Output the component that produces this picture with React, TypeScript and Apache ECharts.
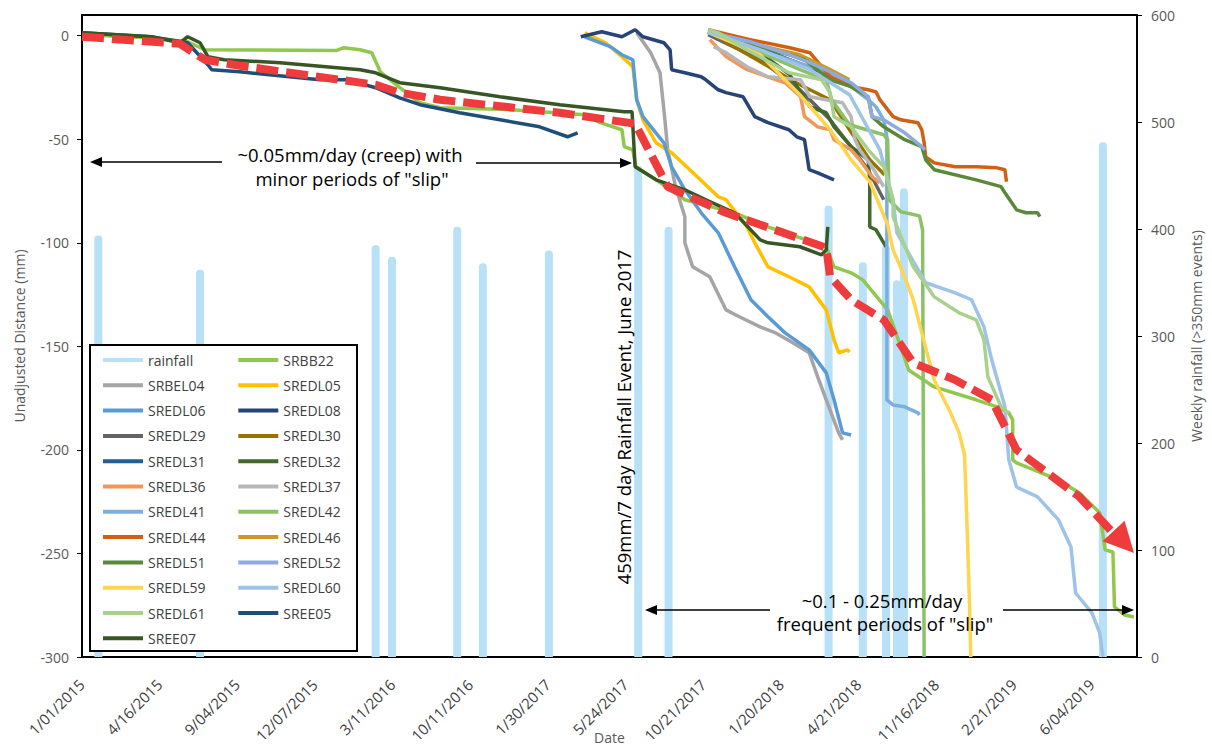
import { useEffect, useRef } from 'react';
import * as echarts from 'echarts';

const FONT = '"Open Sans", "Noto Sans", sans-serif';

// x axis: tick label index scale (100 units between consecutive tick labels)
const xTickLabels = ['1/01/2015', '4/16/2015', '9/04/2015', '12/07/2015', '3/11/2016', '10/11/2016', '1/30/2017', '5/24/2017', '10/21/2017', '1/20/2018', '4/21/2018', '11/16/2018', '2/21/2019', '6/04/2019'];
const xTickPositions = [3, 103, 203, 303, 403, 503, 603, 703, 803, 903, 1003, 1103, 1203, 1303];

// weekly rainfall events (>350mm)
const rainX = [21, 152, 378, 399, 483, 516, 601, 716, 755, 961, 1005, 1035, 1049, 1058, 1314];
const rainMm = [394, 362, 385, 374, 402, 368, 380, 459, 402, 422, 369, 385, 352, 438, 481];

const SRBB22 = [[0, 0.5], [88, -1], [136, -2.9], [158, -6.8], [327, -7.2], [337, -5.8], [358, -6.8], [373, -8.2], [384, -17.4], [409, -25.1], [435, -32.4], [461, -34.8], [553, -35.7], [647, -38.2], [667, -42], [695, -45.4], [698, -53.6], [709, -55.1], [713, -63.3], [739, -69.6], [776, -79.2], [840, -85.5], [883, -92.3], [958, -101.9], [968, -111.6], [990, -114.5], [1005, -117.9], [1037, -132.4], [1054, -150.2], [1064, -161.4], [1097, -169.6], [1151, -175.8], [1178, -179.2], [1193, -182.1], [1198, -185.5], [1198, -204.8], [1203, -206.3], [1257, -214.5], [1284, -220.8], [1310, -230.4], [1317, -248.3], [1327, -249.3], [1329, -275.8], [1342, -279.7], [1354, -280.7]];
const SRBEL04 = [[714, 1.4], [732, -8.2], [744, -17.9], [749, -35.7], [754, -55.1], [764, -72.9], [776, -87.4], [776, -100], [786, -111.6], [808, -116.4], [829, -132.4], [846, -135.7], [873, -140.6], [893, -143.5], [915, -148.3], [936, -153.1], [947, -164.7], [958, -175.8], [974, -191.8], [979, -195.2]];
const SREDL05 = [[647, 1.4], [674, -3.4], [695, -10.1], [709, -15], [714, -30.9], [722, -40.6], [739, -51.7], [759, -56.5], [792, -68.1], [819, -77.8], [829, -79.2], [856, -92.3], [866, -100], [883, -111.6], [910, -116.4], [936, -121.3], [958, -132.4], [968, -146.9], [974, -153.1], [985, -151.7], [988, -152.7]];
const SREDL06 = [[647, -0.5], [680, -5.3], [695, -9.2], [709, -11.6], [714, -30.9], [722, -39.1], [749, -51.7], [759, -63.3], [776, -74.4], [797, -85.5], [819, -95.2], [840, -111.6], [861, -127.5], [883, -135.7], [905, -143.5], [936, -151.7], [958, -162.8], [968, -175.8], [979, -191.8], [990, -192.8]];
const SREDL08 = [[642, -0.5], [669, 1.9], [695, -0.5], [712, 2.9], [722, -0.5], [749, -3.4], [757, -6.8], [759, -16.4], [776, -17.9], [797, -19.8], [803, -21.3], [819, -26.1], [829, -27.5], [851, -29.5], [866, -39.1], [883, -42], [910, -45.4], [920, -48.8], [930, -50.2], [936, -64.7], [947, -66.2], [968, -69.6]];
const SREDL29 = [[806, 0.5], [873, -11.6], [924, -26.1], [963, -40.6], [990, -53.6], [1012, -64.7], [1032, -79.2]];
const SREDL30 = [[806, 1.9], [873, -12.6], [924, -23.7], [963, -30.9], [988, -45.4], [1014, -59.9], [1033, -67.1]];
const SREDL31 = [[806, 1.9], [860, -4.3], [911, -11.6], [950, -17.4], [988, -23.7]];
const SREDL32 = [[806, 1.9], [847, -4.3], [885, -11.6], [911, -18.8], [925, -27.5], [937, -34.3], [958, -37.2], [968, -44], [990, -53.6], [1012, -59.9], [1014, -69.6], [1014, -92.3], [1022, -93.7], [1032, -100], [1035, -101.9]];
const SREDL36 = [[808, -1.9], [829, -10.1], [856, -16.4], [905, -22.7], [925, -29.5], [930, -39.1], [947, -44], [963, -45.4], [968, -50.2], [990, -55.1], [1001, -59.9], [1017, -68.1], [1022, -69.6], [1027, -71]];
const SREDL37 = [[813, -5.3], [829, -8.2], [856, -15], [883, -19.8], [925, -21.3], [937, -29.5], [958, -30.9], [979, -32.4], [990, -39.1], [995, -50.2], [1001, -55.1], [1017, -63.3], [1032, -72.9]];
const SREDL41 = [[806, 1.4], [829, -1.9], [910, -11.6], [937, -15], [963, -17.9], [990, -24.6], [1012, -30.9], [1022, -34.3], [1032, -40.6], [1036, -48.8], [1036, -175.8], [1044, -178.3], [1059, -179.2], [1076, -182.1], [1078, -183.1]];
const SREDL42 = [[806, 2.9], [860, -5.8], [924, -16.4], [958, -21.3], [965, -30.9], [988, -43], [1032, -47.8], [1037, -50.2], [1039, -79.2], [1054, -85], [1078, -87], [1082, -93.7], [1084, -300]];
const SREDL44 = [[806, 2.9], [860, -1.9], [911, -5.8], [937, -8.2], [963, -19.8], [990, -24.6], [1012, -26.1], [1022, -27.1], [1027, -30.9], [1037, -35.7], [1044, -39.1], [1054, -40.6], [1076, -42], [1081, -45.4], [1084, -51.7], [1086, -58.5], [1097, -61.4], [1124, -63.3], [1151, -63.3], [1178, -63.8], [1188, -64.7], [1190, -70.5]];
const SREDL46 = [[806, 1.9], [847, -1.9], [885, -5.8], [924, -9.2], [963, -16.4], [988, -21.3]];
const SREDL51 = [[806, 1.9], [860, -4.3], [911, -9.2], [930, -11.6], [963, -21.3], [990, -24.6], [1012, -29.5], [1017, -39.1], [1032, -44], [1059, -50.2], [1081, -53.6], [1086, -59.9], [1097, -64.7], [1151, -69.6], [1183, -72.9], [1188, -75.8], [1203, -84.1], [1215, -85.5], [1230, -85.5], [1233, -87.4]];
const SREDL52 = [[806, 1.9], [860, -2.9], [911, -9.2], [937, -13], [963, -17.4], [990, -22.7], [1012, -29.5], [1017, -39.1], [1032, -40.6], [1059, -46.9], [1081, -53.6], [1085, -55.1]];
const SREDL59 = [[806, 1.9], [873, -9.2], [924, -28.5], [963, -45.4], [990, -59.9], [1014, -70.5], [1037, -91.3], [1044, -103.4], [1059, -116.4], [1070, -127.5], [1081, -143.5], [1097, -166.2], [1118, -182.1], [1129, -191.8], [1136, -202.4], [1139, -233.8], [1143, -282.1], [1144, -300]];
const SREDL60 = [[806, 1.9], [873, -6.8], [937, -16.4], [988, -28.5], [1027, -55.1], [1044, -79.2], [1049, -95.2], [1086, -119.3], [1124, -124.2], [1145, -127.5], [1161, -140.6], [1171, -156.5], [1188, -179.2], [1193, -204.8], [1203, -217.9], [1230, -222.7], [1257, -233.8], [1273, -246.9], [1279, -269.1], [1300, -278.7], [1310, -288.4], [1314, -300]];
const SREDL61 = [[806, 2.9], [819, 1.4], [856, -6.8], [910, -17.9], [952, -21.3], [963, -27.5], [968, -39.1], [990, -44], [1012, -55.1], [1032, -63.3], [1044, -79.2], [1044, -87.4], [1070, -111.6], [1097, -126.1], [1129, -133.8], [1151, -137.2], [1161, -146.9], [1166, -164.7], [1183, -179.2], [1193, -182.1]];
const SREE05 = [[0, 1.4], [88, -0.5], [136, -3.4], [162, -14], [167, -16.4], [203, -17.4], [306, -21.3], [342, -21.3], [378, -25.1], [409, -30], [435, -33.3], [486, -37.2], [538, -40.6], [589, -44], [625, -48.8], [638, -46.9]];
const SREE07 = [[0, 1.4], [90, -0.5], [126, -3.4], [136, -0.5], [152, -3.4], [162, -10.1], [183, -11.6], [255, -13], [358, -16.4], [378, -17.9], [409, -22.7], [461, -25.1], [538, -29.5], [615, -33.3], [698, -36.7], [708, -36.7], [712, -63.3], [739, -69.6], [776, -74.4], [803, -79.2], [840, -85.5], [873, -98.6], [883, -100], [924, -101.9], [952, -105.8], [958, -103.4], [960, -92.3]];

// overall trend (red dashed arrow)
const trend = [[0, -0.5], [126, -3.9], [158, -11.6], [203, -14.5], [378, -23.7], [409, -27.5], [461, -30.9], [615, -37.2], [712, -42.5], [754, -73], [829, -85.5], [958, -102.4], [963, -116.4], [990, -127.5], [1032, -137.2], [1070, -158], [1124, -166.2], [1171, -175.8], [1203, -200], [1284, -222.7], [1327, -240]];
const trendHead = [1341, -244.5];

const lineDefs = [
  { name: 'SRBB22', color: '#90c84b', data: SRBB22 },
  { name: 'SRBEL04', color: '#a5a5a5', data: SRBEL04 },
  { name: 'SREDL05', color: '#ffc000', data: SREDL05 },
  { name: 'SREDL06', color: '#5b9bd5', data: SREDL06 },
  { name: 'SREDL08', color: '#264478', data: SREDL08 },
  { name: 'SREDL29', color: '#636363', data: SREDL29 },
  { name: 'SREDL30', color: '#997300', data: SREDL30 },
  { name: 'SREDL31', color: '#255e91', data: SREDL31 },
  { name: 'SREDL32', color: '#43682b', data: SREDL32 },
  { name: 'SREDL36', color: '#f1975a', data: SREDL36 },
  { name: 'SREDL37', color: '#b7b7b7', data: SREDL37 },
  { name: 'SREDL41', color: '#7cafdd', data: SREDL41 },
  { name: 'SREDL42', color: '#8cc168', data: SREDL42 },
  { name: 'SREDL44', color: '#d26012', data: SREDL44 },
  { name: 'SREDL46', color: '#cc9a24', data: SREDL46 },
  { name: 'SREDL51', color: '#5a8a39', data: SREDL51 },
  { name: 'SREDL52', color: '#8faadc', data: SREDL52 },
  { name: 'SREDL59', color: '#ffd44f', data: SREDL59 },
  { name: 'SREDL60', color: '#9dc3e6', data: SREDL60 },
  { name: 'SREDL61', color: '#a9d18e', data: SREDL61 },
  { name: 'SREE05', color: '#1f4e79', data: SREE05 },
  { name: 'SREE07', color: '#375623', data: SREE07 },
];

function arrowHead(tipX: number, y: number, dir: number) {
  return {
    type: 'polygon', z: 30,
    shape: { points: [[tipX, y], [tipX - dir * 12, y - 5], [tipX - dir * 12, y + 5]] },
    style: { fill: '#000' },
  };
}

export default function App() {
  const ref = useRef<HTMLDivElement>(null);
  useEffect(() => {
    if (!ref.current) return;
    const chart = echarts.init(ref.current, null, { renderer: 'svg' });
    const txt = (text: string, x: number, y: number, extra: any = {}) => ({
      type: 'text', z: 30, x, y, ...extra,
      style: { text, fill: '#000', font: `18.5px ${FONT}`, textAlign: 'center', textVerticalAlign: 'middle' },
    });
    const option: any = {
      animation: false,
      backgroundColor: '#fff',
      textStyle: { fontFamily: FONT },
      grid: { left: 82, right: 75, top: 15, bottom: 90, outerBoundsMode: 'none', containLabel: false, show: true, borderColor: '#000', borderWidth: 2, backgroundColor: 'transparent' },
      legend: {
        data: ['rainfall', ...lineDefs.map((d) => d.name)],
        left: 98, top: 345, width: 270, orient: 'horizontal',
        itemWidth: 40, itemHeight: 4, itemGap: 5.3, icon: 'rect', selectedMode: false, z: 20,
        textStyle: { fontFamily: FONT, fontSize: 14, color: '#404040', width: 85, lineHeight: 20 },
      },
      xAxis: {
        type: 'value', min: 0, max: 1358,
        axisLine: { show: true, onZero: false, lineStyle: { color: '#000', width: 2 } },
        axisTick: { show: false },
        splitLine: { show: false },
        axisLabel: {
          customValues: xTickPositions,
          rotate: 45, margin: 22, fontSize: 15, color: '#404040', fontFamily: FONT,
          padding: [0, 4, 0, 0],
          formatter: (v: number) => {
            const i = xTickPositions.indexOf(Math.round(v));
            return i >= 0 ? xTickLabels[i] : '';
          },
        },
        name: 'Date', nameLocation: 'middle', nameGap: 73, nameMoveOverlap: false,
        nameTextStyle: { fontSize: 14, color: '#595959', fontFamily: FONT },
      },
      yAxis: [
        {
          type: 'value', min: -300, max: 10, interval: 50, position: 'left',
          axisLine: { show: true, onZero: false, lineStyle: { color: '#000', width: 2 } },
          axisTick: { show: true, length: 5, lineStyle: { color: '#000' } },
          splitLine: { show: false },
          axisLabel: { fontSize: 14, color: '#595959', margin: 13, showMaxLabel: false, formatter: (v: number) => (v > 0 ? '' : String(v)) },
          name: 'Unadjusted Distance (mm)', nameLocation: 'middle', nameGap: 56, nameMoveOverlap: false,
          nameTextStyle: { fontSize: 14, color: '#595959', fontFamily: FONT },
        },
        {
          type: 'value', min: 0, max: 600, interval: 100, position: 'right',
          axisLine: { show: true, onZero: false, lineStyle: { color: '#000', width: 2 } },
          axisTick: { show: true, length: 5, lineStyle: { color: '#000' } },
          splitLine: { show: false },
          axisLabel: { fontSize: 14, color: '#595959', margin: 14 },
          name: 'Weekly rainfall (>350mm events)', nameLocation: 'middle', nameGap: 52, nameMoveOverlap: false,
          nameTextStyle: { fontSize: 14, color: '#595959', fontFamily: FONT },
        },
      ],
      series: [
        {
          name: 'rainfall', type: 'bar', yAxisIndex: 1, barWidth: 8,
          data: rainX.map((x, i) => [x, rainMm[i]]),
          itemStyle: { color: '#b8e0f6', borderRadius: [4, 4, 0, 0] },
          silent: true, z: 1,
        },
        ...lineDefs.map((d) => ({
          name: d.name, type: 'line', data: d.data, symbol: 'none', showSymbol: false,
          lineStyle: { color: d.color, width: 3.5 }, itemStyle: { color: d.color },
          silent: true, z: 2,
        })),
        {
          name: 'trend', type: 'line', silent: true, z: 5,
          data: [...trend.map((p) => ({ value: p, symbol: 'none' })),
            { value: trendHead, symbol: 'triangle', symbolSize: [30, 30], symbolRotate: -137 }],
          showSymbol: true, symbol: 'none',
          lineStyle: { color: '#ee3b3b', width: 8, type: [22, 8] },
          itemStyle: { color: '#ee3b3b' },
        },
      ],
      graphic: [
        { type: 'rect', z: 15, shape: { x: 90, y: 345, width: 267, height: 306 }, style: { fill: '#fff', stroke: '#000', lineWidth: 2 } },
        txt('~0.05mm/day (creep) with', 350, 154),
        txt('minor periods of "slip"', 352, 178),
        { type: 'line', z: 30, shape: { x1: 222, y1: 162, x2: 100, y2: 162 }, style: { stroke: '#000', lineWidth: 1.5 } },
        arrowHead(90, 162, -1),
        { type: 'line', z: 30, shape: { x1: 476, y1: 163, x2: 622, y2: 163 }, style: { stroke: '#000', lineWidth: 1.5 } },
        arrowHead(632, 163, 1),
        txt('459mm/7 day Rainfall Event, June 2017', 623, 417, { rotation: Math.PI / 2 }),
        txt('~0.1 - 0.25mm/day', 882, 600),
        txt('frequent periods of "slip"', 885, 623),
        { type: 'line', z: 30, shape: { x1: 770, y1: 610, x2: 655, y2: 610 }, style: { stroke: '#000', lineWidth: 1.5 } },
        arrowHead(645, 610, -1),
        { type: 'line', z: 30, shape: { x1: 1003, y1: 610, x2: 1124, y2: 610 }, style: { stroke: '#000', lineWidth: 1.5 } },
        arrowHead(1134, 610, 1),
      ],
    };
    chart.setOption(option);
    return () => chart.dispose();
  }, []);
  return <div ref={ref} style={{ position: 'absolute', left: 0, top: 0, width: 1212, height: 747 }} />;
}
